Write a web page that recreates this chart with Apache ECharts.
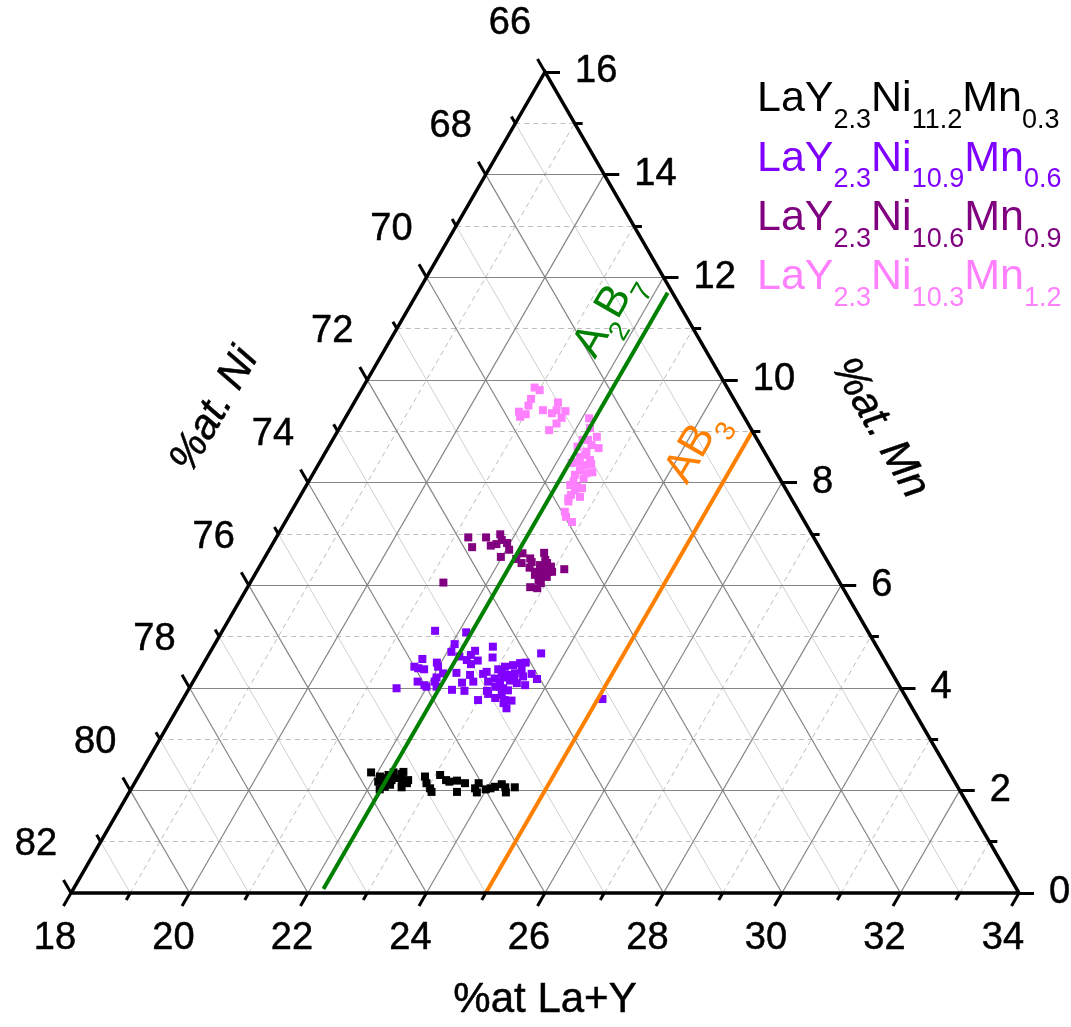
<!DOCTYPE html>
<html>
<head>
<meta charset="utf-8">
<title>LaY-Ni-Mn ternary</title>
<script src="https://cdn.jsdelivr.net/npm/echarts@6.0.0/dist/echarts.min.js"></script>
<style>
html,body{margin:0;padding:0;background:#fff;}
#chart{width:1071px;height:1027px;}
</style>
</head>
<body>
<div id="chart"></div>
<script>
// ---------------- ternary axes ----------------
const LAY_RANGE = [18, 34];   // %at La+Y (bottom axis)
const MN_RANGE = [0, 16];     // %at. Mn (right axis)
const NI_RANGE = [66, 82];    // %at. Ni (left axis)
const layTickLabels = [18, 20, 22, 24, 26, 28, 30, 32, 34];
const niTickLabels = [66, 68, 70, 72, 74, 76, 78, 80, 82];
const mnTickLabels = [0, 2, 4, 6, 8, 10, 12, 14, 16];

// ---------------- series ----------------
const seriesNames = ['LaY2.3Ni11.2Mn0.3', 'LaY2.3Ni10.9Mn0.6', 'LaY2.3Ni10.6Mn0.9', 'LaY2.3Ni10.3Mn1.2'];
// points: [%at La+Y, %at Mn]   (Ni = 100 - La+Y - Mn)
const ptsMn03 = [[21.89,2.35],[22.08,2.27],[22.10,2.17],[22.19,2.11],[22.20,2.02],[22.18,2.24],[22.21,2.30],[22.31,2.20],[22.27,2.35],[22.38,2.24],[22.42,2.32],[22.43,2.36],[22.49,2.19],[22.59,2.20],[22.55,2.06],[22.33,2.11],[22.26,2.07],[22.84,2.27],[22.93,2.14],[23.04,2.04],[23.10,1.97],[23.08,2.30],[23.23,2.20],[23.30,2.17],[23.42,2.19],[23.58,2.14],[23.53,1.97],[23.80,2.04],[23.87,1.96],[23.81,2.14],[23.99,2.02],[24.06,2.04],[24.12,2.07],[24.21,2.12],[24.30,2.06],[24.36,1.96],[24.46,2.06],[22.60,2.14]];
const ptsMn06 = [[21.59,5.11],[22.13,5.08],[22.05,4.85],[22.72,4.80],[22.07,4.70],[22.46,4.72],[22.43,4.64],[22.25,4.61],[22.82,4.59],[23.60,4.67],[22.41,4.54],[22.60,4.53],[21.65,4.56],[21.59,4.41],[21.67,4.38],[21.78,4.36],[21.93,4.49],[21.99,4.41],[22.52,4.46],[22.36,4.29],[22.14,4.28],[22.07,4.20],[22.61,4.25],[22.82,4.27],[22.86,4.31],[23.03,4.36],[23.12,4.41],[23.24,4.44],[23.34,4.48],[23.43,4.49],[23.43,4.35],[23.64,4.27],[23.78,4.17],[23.13,4.28],[23.26,4.25],[23.35,4.28],[23.06,4.18],[22.98,4.12],[23.18,4.12],[23.34,4.14],[23.48,4.09],[23.64,4.05],[22.73,4.12],[22.55,4.10],[22.08,4.12],[21.79,4.12],[21.94,4.05],[21.99,4.02],[21.50,3.99],[22.16,4.02],[22.45,3.96],[22.67,3.94],[23.05,3.94],[23.15,4.02],[23.30,3.99],[23.26,3.80],[23.44,3.76],[23.56,3.75],[23.34,3.86],[22.99,3.76],[23.55,3.60],[23.45,3.70],[25.08,3.78],[23.20,4.20],[23.38,4.20],[23.52,4.22],[23.22,4.02],[23.40,3.95],[23.10,3.88]];
const ptsMn09 = [[21.24,6.93],[21.54,6.93],[21.75,6.99],[21.40,6.74],[21.70,6.77],[21.78,6.80],[21.83,6.88],[21.95,6.82],[22.05,6.69],[21.98,6.55],[22.26,6.51],[22.31,6.62],[22.39,6.43],[22.49,6.52],[22.55,6.45],[22.57,6.34],[22.67,6.63],[22.72,6.39],[22.82,6.43],[22.92,6.36],[22.73,6.26],[22.84,6.26],[22.93,6.26],[22.83,6.16],[22.95,6.16],[22.81,6.33],[22.84,6.10],[22.77,5.96],[22.90,5.94],[23.17,6.31],[21.26,6.05],[22.73,6.20],[22.76,6.49],[22.99,6.26],[22.91,6.04]];
const ptsMn12 = [[20.90,9.85],[21.01,9.80],[20.95,9.63],[20.97,9.50],[20.87,9.38],[21.01,9.33],[20.94,9.28],[21.26,9.41],[21.44,9.56],[21.49,9.41],[21.44,9.35],[21.65,9.39],[21.65,9.26],[21.62,9.15],[21.56,9.02],[22.12,9.25],[22.23,9.06],[22.22,8.83],[22.43,8.89],[22.57,8.67],[22.20,8.70],[22.42,8.73],[22.40,8.60],[22.34,8.50],[22.54,8.44],[22.26,8.38],[22.50,8.34],[22.60,8.36],[22.47,8.24],[22.70,8.20],[22.61,8.18],[22.43,8.15],[22.61,8.08],[22.47,8.02],[22.45,7.95],[22.58,7.92],[22.68,7.89],[22.56,7.76],[22.55,7.69],[22.73,7.72],[22.58,7.63],[22.62,7.43],[22.69,7.33],[22.84,7.23],[22.41,8.54],[22.36,8.40],[22.31,8.83],[22.58,7.85]];
const seriesPoints = [ptsMn03, ptsMn06, ptsMn09, ptsMn12];

// stoichiometry lines (constant La+Y), endpoints [La+Y, Mn]
const lineA2B7 = [[22.22, 0.08], [22.22, 11.70]];
const lineAB3 = [[25.00, 0.00], [25.00, 9.00]];

// ---------------- styling ----------------
const FONT = 'Liberation Sans, Arial, Helvetica, sans-serif';
const seriesColors = ['#000000', '#8000ff', '#800080', '#ff80ff'];
const GREEN = '#008000', ORANGE = '#ff8000';

// ---------------- geometry helpers ----------------
const SQ = Math.sqrt(3) / 2;
const SPAN = LAY_RANGE[1] - LAY_RANGE[0];
function toXY(lay, mn) { return [lay - LAY_RANGE[0] + mn / 2, mn * SQ]; }
const GRID = { left: 71, right: 52, top: 72, bottom: 134 };
const PX = SPAN / (1071 - GRID.left - GRID.right);   // data units per pixel

// grid lines
const gridMajor = [], gridMinorDash = [], gridMinorSolid = [];
for (let v = 1; v < SPAN; v++) {
  const major = v % 2 === 0;
  const mnSeg = { coords: [toXY(LAY_RANGE[0], v), toXY(LAY_RANGE[1] - v, v)] };
  const laySeg = { coords: [toXY(LAY_RANGE[0] + v, 0), toXY(LAY_RANGE[0] + v, SPAN - v)] };
  const niSeg = { coords: [toXY(LAY_RANGE[0] + v, 0), toXY(LAY_RANGE[0], v)] };
  if (major) gridMajor.push(mnSeg, laySeg, niSeg);
  else { gridMinorDash.push(mnSeg, laySeg); gridMinorSolid.push(niSeg); }
}

// ticks
const tickMajor = [], tickMinor = [];
const MAJ = 15 * PX, MINL = 8 * PX;
for (let v = 0; v <= SPAN; v++) {
  const major = v % 2 === 0;
  const len = major ? MAJ : MINL;
  const arr = major ? tickMajor : tickMinor;
  let p = toXY(LAY_RANGE[0] + v, 0);                   // bottom (La+Y)
  arr.push({ coords: [p, [p[0] - 0.5 * len, p[1] - SQ * len]] });
  p = toXY(LAY_RANGE[0], MN_RANGE[1] - v);             // left (Ni = 66 + v)
  arr.push({ coords: [p, [p[0] - 0.5 * len, p[1] + SQ * len]] });
  p = toXY(LAY_RANGE[1] - v, v);                       // right (Mn = v)
  arr.push({ coords: [p, [p[0] + len, p[1]]] });
}

const edges = [{ coords: [toXY(LAY_RANGE[0], 0), toXY(LAY_RANGE[1], 0), toXY(LAY_RANGE[0], SPAN), toXY(LAY_RANGE[0], 0)] }];

function linesSeries(data, color, width, type, z, polyline) {
  return {
    type: 'lines', coordinateSystem: 'cartesian2d', polyline: !!polyline, silent: true, clip: false,
    z: z, data: data, effect: { show: false },
    lineStyle: { color: color, width: width, type: type, opacity: 1, curveness: 0, cap: 'butt', join: 'miter' }
  };
}

function textSeries(points, texts, label, z) {
  const col = label.color || '#000000';
  const base = { show: true, position: 'inside', fontFamily: FONT, color: col,
                 textBorderColor: col, textBorderWidth: 0.5, opacity: 1 };
  return {
    type: 'scatter', silent: true, clip: false, z: z || 6, symbol: 'circle', symbolSize: 0,
    itemStyle: { color: col, opacity: 1 },
    data: points.map(function (p, i) { return { value: p, label: { formatter: texts[i], color: col } }; }),
    label: Object.assign(base, label),
    emphasis: { disabled: true }
  };
}

const tickLabelFont = 38;
// rich styles: main text aligned to the top of a tall line, subscripts to its bottom
function subRich(size, sub, lh) {
  return {
    m: { fontSize: size, lineHeight: lh, verticalAlign: 'top', fontFamily: FONT },
    s: { fontSize: sub, lineHeight: lh, verticalAlign: 'bottom', fontFamily: FONT }
  };
}
function chem(name) {
  return name.replace(/([A-Z][a-z]?)([\d.]*)/g, function (m, el, sub) {
    return '{m|' + el + '}' + (sub ? '{s|' + sub + '}' : '');
  });
}

const series = [
  linesSeries(gridMinorSolid, '#d0d0d0', 1, 'solid', 1),
  linesSeries(gridMinorDash, '#bdbdbd', 1, [5, 4], 1),
  linesSeries(gridMajor, '#858585', 1.2, 'solid', 2),
];
seriesNames.forEach(function (n, i) {
  series.push({
    name: n, type: 'scatter', symbol: 'rect', symbolSize: 8, z: 3, clip: false,
    itemStyle: { color: seriesColors[i], opacity: 1 },
    data: seriesPoints[i].map(function (p) { return toXY(p[0], p[1]); })
  });
});
series.push(
  { name: 'A2B7', type: 'line', z: 5, showSymbol: false, symbol: 'none', clip: false,
    lineStyle: { color: GREEN, width: 4 }, data: lineA2B7.map(function (p) { return toXY(p[0], p[1]); }) },
  { name: 'AB3', type: 'line', z: 5, showSymbol: false, symbol: 'none', clip: false,
    lineStyle: { color: ORANGE, width: 4 }, data: lineAB3.map(function (p) { return toXY(p[0], p[1]); }) },
  linesSeries(edges, '#000', 3.5, 'solid', 6, true),
  linesSeries(tickMajor, '#000', 3, 'solid', 6),
  linesSeries(tickMinor, '#000', 3, 'solid', 6),
  // tick labels
  textSeries(layTickLabels.map(function (v) { return toXY(v, 0); }), layTickLabels.map(String),
    { fontSize: tickLabelFont, offset: [-16, 46] }),
  textSeries(niTickLabels.map(function (v) { return toXY(LAY_RANGE[0], NI_RANGE[1] - v); }), niTickLabels.map(String),
    { fontSize: tickLabelFont, offset: [-35, -48] }),
  textSeries(mnTickLabels.map(function (v) { return toXY(LAY_RANGE[1] - v, v); }), mnTickLabels.map(String),
    { fontSize: tickLabelFont, position: 'right', distance: 30 }),
  // axis titles
  textSeries([toXY(26, 0)], ['%at La+Y'], { fontSize: 42, offset: [0, 107] }),
  textSeries([toXY(15.72, 9.41)], ['%at. Ni'], { fontSize: 42, rotate: 60, fontStyle: 'italic' }),
  textSeries([toXY(27.12, 9.06)], ['%at. Mn'], { fontSize: 42, rotate: -60, fontStyle: 'italic' }),
  // line annotations
  textSeries([toXY(21.53, 11.21)], [chem('A2B7')], { rotate: 60, color: GREEN, textBorderWidth: 0, rich: subRich(44, 28, 56) }, 7),
  textSeries([toXY(24.30, 8.63)], [chem('AB3')], { rotate: 60, color: ORANGE, textBorderWidth: 0, rich: subRich(44, 28, 56) }, 7)
);

const chart = echarts.init(document.getElementById('chart'), null, { renderer: 'canvas' });
chart.setOption({
  animation: false,
  backgroundColor: '#ffffff',
  grid: Object.assign({ containLabel: false, outerBoundsMode: 'none' }, GRID),
  xAxis: { type: 'value', min: 0, max: SPAN, show: false },
  yAxis: { type: 'value', min: 0, max: SPAN * SQ, show: false },
  legend: {
    orient: 'vertical', left: 752, top: 78, padding: 0, icon: 'none', itemWidth: 0, itemHeight: 14, itemGap: 3.3,
    selectedMode: false,
    data: seriesNames.map(function (n, i) { return { name: n, textStyle: { color: seriesColors[i] } }; }),
    formatter: chem,
    textStyle: { fontFamily: FONT, rich: subRich(43, 27, 56) }
  },
  series: series
});
</script>
</body>
</html>
